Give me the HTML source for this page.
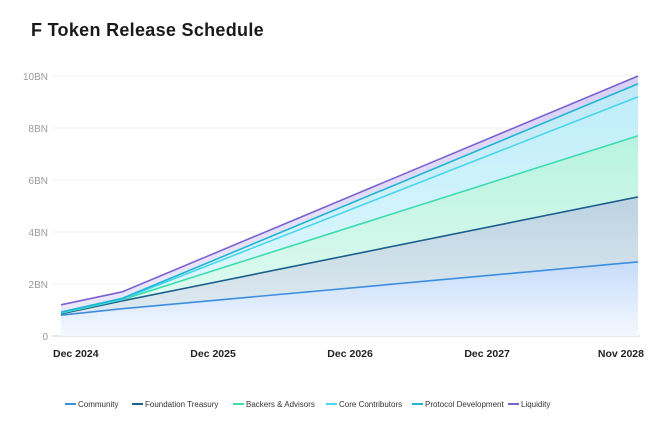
<!DOCTYPE html>
<html><head><meta charset="utf-8">
<style>
html,body{margin:0;padding:0;background:#fff;}
body{width:660px;height:426px;overflow:hidden;font-family:"Liberation Sans",sans-serif;}
#title{position:absolute;left:31px;top:20px;font-size:18px;font-weight:bold;color:#1a1a1a;letter-spacing:0.3px;}
svg{position:absolute;left:0;top:0;}
</style></head><body>
<div id="title">F Token Release Schedule</div>
<svg id="chart" width="660" height="426">
<defs>
<linearGradient id="g0" x1="0" y1="0" x2="0" y2="1"><stop offset="0" stop-color="#c6dcfa"/><stop offset="1" stop-color="#f3f8ff"/></linearGradient>
<linearGradient id="g1" x1="0" y1="0" x2="0" y2="1"><stop offset="0" stop-color="#bcd3e2"/><stop offset="1" stop-color="#dfeaf0"/></linearGradient>
<linearGradient id="g2" x1="0" y1="0" x2="0" y2="1"><stop offset="0" stop-color="#b8f3df"/><stop offset="1" stop-color="#e2fbf2"/></linearGradient>
<linearGradient id="g3" x1="0" y1="0" x2="0" y2="1"><stop offset="0" stop-color="#c0eefa"/><stop offset="1" stop-color="#e2f8fd"/></linearGradient>
<linearGradient id="g4" x1="0" y1="0" x2="0" y2="1"><stop offset="0" stop-color="#bfe9f6"/><stop offset="1" stop-color="#e2f6fc"/></linearGradient>
<linearGradient id="g5" x1="0" y1="0" x2="0" y2="1"><stop offset="0" stop-color="#d8d0f4"/><stop offset="1" stop-color="#ece8fb"/></linearGradient>
</defs>
</svg>
<script>
const months = [0, 5, 47];
const community = [0.80, 1.05, 2.85];
const treasury = [0.85, 1.35, 5.35];
const backers = [0.88, 1.40, 7.70];
const core = [0.90, 1.42, 9.20];
const protocol = [0.92, 1.45, 9.70];
const liquidity = [1.20, 1.70, 10.00];
const seriesNames = ["Community","Foundation Treasury","Backers & Advisors","Core Contributors","Protocol Development","Liquidity"];
const yTicks = [0, 2, 4, 6, 8, 10];
const yTickLabels = ["0","2BN","4BN","6BN","8BN","10BN"];
const xTickMonths = [0, 12, 24, 36, 47];
const xTickLabels = ["Dec 2024","Dec 2025","Dec 2026","Dec 2027","Nov 2028"];

const NS = "http://www.w3.org/2000/svg";
const svg = document.getElementById("chart");
const X0 = 61, X1 = 638, Y0 = 336, Y1 = 76;
const x = m => X0 + (m / 47) * (X1 - X0);
const xl = m => 76 + m * 11.42;
const y = v => Y0 - (v / 10) * (Y0 - Y1);
const colors = ["#3d8ee0","#1b5f8c","#3ddcb0","#48d6ee","#1fb6d3","#7a62d2"];
const fills = ["url(#g0)","url(#g1)","url(#g2)","url(#g3)","url(#g4)","url(#g5)"];
const data = [community, treasury, backers, core, protocol, liquidity];

function mk(tag, attrs){const e=document.createElementNS(NS,tag);for(const k in attrs)e.setAttribute(k,attrs[k]);svg.appendChild(e);return e;}

yTicks.forEach((t,i)=>{
  const g = mk("line",{x1:52,x2:X1+2,y1:y(t),y2:y(t),stroke:t===0?"#e2e2e2":"#f2f2f2","stroke-width":t===0?1.5:1});
  
  
  const l = mk("text",{x:48,y:y(t)+4,"text-anchor":"end","font-size":10,fill:"#9a9a9a"});
  l.textContent = yTickLabels[i];
  
  
});

data.forEach((s,i)=>{
  const below = i===0 ? months.map(()=>0) : data[i-1];
  let d = "M"+months.map((m,j)=>x(m)+","+y(s[j])).join(" L");
  for(let j=months.length-1;j>=0;j--) d += " L"+x(months[j])+","+y(below[j]);
  d += " Z";
  const a = mk("path",{d:d,fill:fills[i],stroke:"none"});
  
  
});
data.forEach((s,i)=>{
  const p = mk("polyline",{points:months.map((m,j)=>x(m)+","+y(s[j])).join(" "),fill:"none",stroke:colors[i],"stroke-width":1.6});
  
  
});

xTickMonths.forEach((m,i)=>{
  const anchor = i===0 ? "start" : (i===xTickMonths.length-1 ? "end" : "middle");
  const px = i===0 ? 53 : (i===xTickMonths.length-1 ? 644 : xl(m));
  const t = mk("text",{x:px,y:357,"text-anchor":anchor,"font-size":10.5,"font-weight":"bold",fill:"#222"});
  t.textContent = xTickLabels[i];
  
  
});

const legendX = [65, 132, 233, 326, 412, 508];
seriesNames.forEach((n,i)=>{
  const ln = mk("line",{x1:legendX[i],x2:legendX[i]+11,y1:404,y2:404,stroke:colors[i],"stroke-width":2});
  
  
  const t = mk("text",{x:legendX[i]+13,y:407,"font-size":8,fill:"#333"});
  t.textContent = n;
  
  
});
</script>
</body></html>
